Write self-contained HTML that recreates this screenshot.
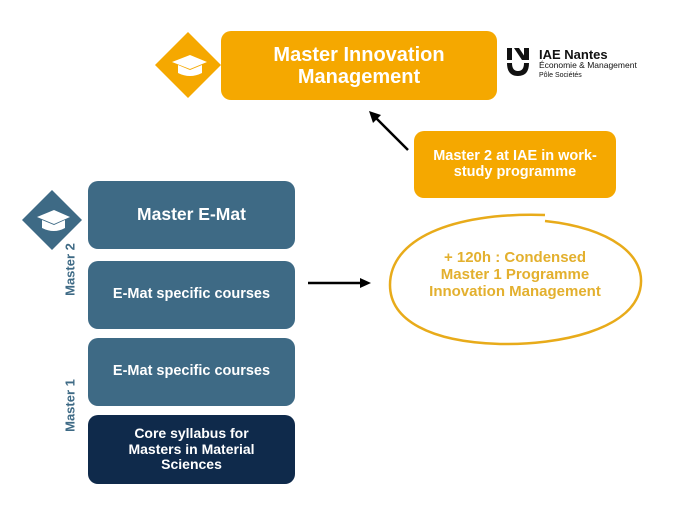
<!DOCTYPE html>
<html><head><meta charset="utf-8"><style>
body{margin:0;width:692px;height:506px;background:#fff;position:relative;overflow:hidden;font-family:"Liberation Sans",sans-serif}
.b{position:absolute;border-radius:10px;color:#fff;font-weight:bold;display:flex;align-items:center;justify-content:center;text-align:center;line-height:1.1}
.t{position:absolute;font-weight:bold;font-size:13px;color:#3e6a85;transform:rotate(-90deg);transform-origin:center;white-space:nowrap}
</style></head><body>
<div class="b" style="left:221px;top:31px;width:276px;height:69px;background:#f5a800;font-size:20px">Master Innovation<br>Management</div>
<div class="b" style="left:414px;top:131px;width:202px;height:67px;background:#f5a800;font-size:14.5px">Master 2 at IAE in work-<br>study programme</div>
<div class="b" style="left:88px;top:181px;width:207px;height:68px;background:#3e6a85;font-size:17.5px">Master E-Mat</div>
<div class="b" style="left:88px;top:261px;width:207px;height:68px;background:#3e6a85;font-size:14.5px">E-Mat specific courses</div>
<div class="b" style="left:88px;top:338px;width:207px;height:68px;background:#3e6a85;font-size:14.5px">E-Mat specific courses</div>
<div class="b" style="left:88px;top:415px;width:207px;height:69px;background:#0f2a4b;font-size:14px">Core syllabus for<br>Masters in Material<br>Sciences</div>
<div class="t" style="left:40px;top:262px;width:60px;text-align:center">Master 2</div>
<div class="t" style="left:40px;top:398px;width:60px;text-align:center">Master 1</div>
<svg width="692" height="506" style="position:absolute;left:0;top:0">
<polygon points="188,32 221,65 188,98 155,65" fill="#f5a800"/>
<polygon points="52,190 82,220 52,250 22,220" fill="#3e6a85"/>
<g fill="#fff"><polygon points="172,62 190,55 207,62 190,69"/><path d="M178,65 v8 q12,6 24,0 v-8 l-12,5z"/>
<polygon points="37,217 54,210 70,217 54,224"/><path d="M42,220 v8 q12,6 23,0 v-8 l-11,5z"/></g>
<line x1="308" y1="283" x2="362" y2="283" stroke="#000" stroke-width="2.5"/>
<polygon points="371,283 360,278 360,288" fill="#000"/>
<line x1="408" y1="150" x2="376" y2="118" stroke="#000" stroke-width="2.5"/>
<polygon points="369,111 373,123 381,115" fill="#000"/>
<path d="M545,221 C610,228 648,255 640,290 C630,330 560,345 500,344 C430,342 390,320 390,285 C390,240 450,212 545,215" fill="none" stroke="#e8ab1a" stroke-width="2.5"/>
<text x="515" y="262" text-anchor="middle" font-family="Liberation Sans" font-weight="bold" font-size="15" fill="#e3b02e">+ 120h : Condensed</text>
<text x="515" y="279" text-anchor="middle" font-family="Liberation Sans" font-weight="bold" font-size="15" fill="#e3b02e">Master 1 Programme</text>
<text x="515" y="296" text-anchor="middle" font-family="Liberation Sans" font-weight="bold" font-size="15" fill="#e3b02e">Innovation Management</text>
<g fill="#111"><rect x="507" y="48" width="5" height="12"/><polygon points="514,48 519,48 527,60 522,60"/><rect x="524" y="48" width="5" height="12"/>
<path d="M507,63 h5 q0,8 6,8 q6,0 6,-8 h5 q0,13 -11,13 q-11,0 -11,-13z"/></g>
<text x="539" y="59" font-family="Liberation Sans" font-weight="bold" font-size="13" fill="#111">IAE Nantes</text>
<text x="539" y="68" font-family="Liberation Sans" font-size="8.5" fill="#111">Économie &amp; Management</text>
<text x="539" y="77" font-family="Liberation Sans" font-size="7" fill="#111">Pôle Sociétés</text>
</svg>
</body></html>
